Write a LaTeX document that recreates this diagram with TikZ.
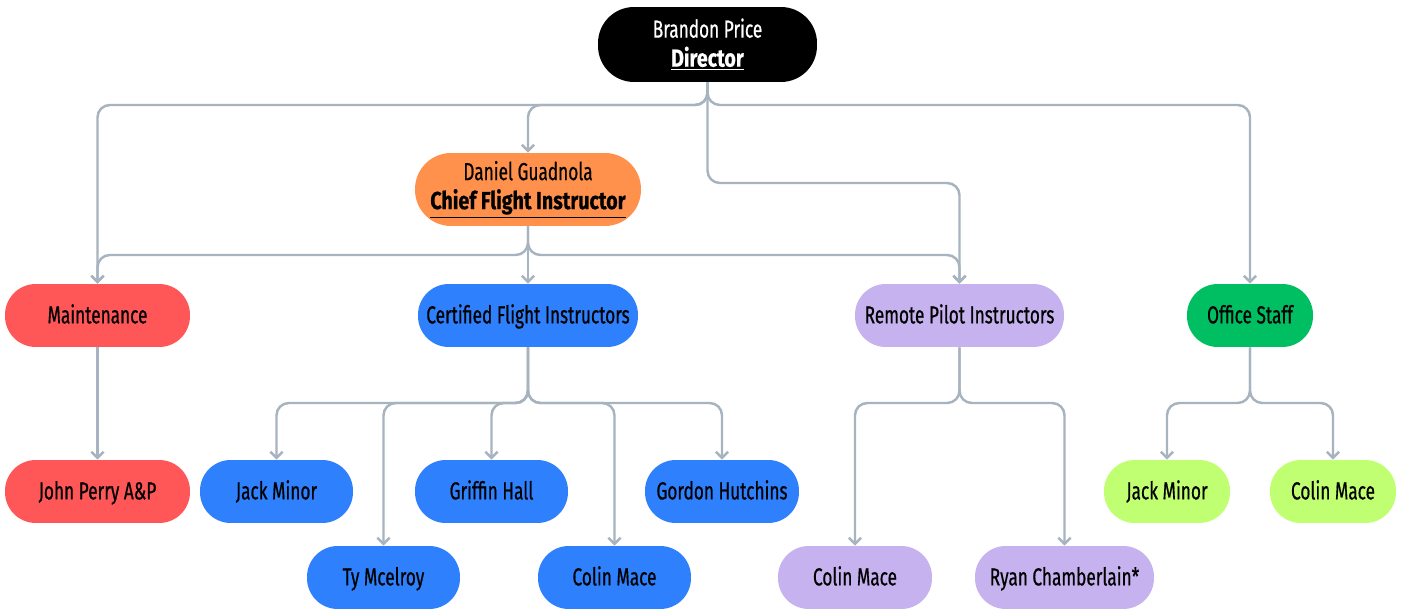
\documentclass[tikz,border=0pt]{standalone}
\usepackage{fontspec}
\setmainfont[FakeStretch=0.7,FakeBold=0.6,BoldFeatures={FakeStretch=0.8}]{Fira Sans}
\usetikzlibrary{arrows.meta}
\definecolor{conncol}{HTML}{A7B3BF}
\definecolor{orangec}{HTML}{FF914D}
\definecolor{redc}{HTML}{FF5757}
\definecolor{bluec}{HTML}{2E80FC}
\definecolor{lavc}{HTML}{C6B2EF}
\definecolor{greenc}{HTML}{00BF63}
\definecolor{limec}{HTML}{C1FF72}
\tikzset{
  basepill/.style={rectangle, inner sep=2pt, align=center, font=\fontsize{14}{16.5}\selectfont, text=black},
  pill/.style={basepill, rounded corners=17.5pt, minimum height=1.26cm, text height=0.9em, text depth=0em},
  bigpill/.style={basepill, rounded corners=20.5pt},
  conn/.style={draw=conncol, line width=1.4pt, rounded corners=7pt, -{Straight Barb[length=3.5pt,width=7pt]}},
}
\newcommand{\ulbold}[1]{\underline{\textbf{#1}}}
\begin{document}
\begin{tikzpicture}[x=0.02cm,y=-0.02cm]
\useasboundingbox (0,0) rectangle (1403,611);
% nodes
\node[bigpill, fill=black, text=white, minimum width=4.38cm, minimum height=1.5cm] (dir) at (707.5,44.5) {Brandon Price\\\ulbold{Director}};
\node[bigpill, fill=orangec, minimum width=4.52cm, minimum height=1.46cm] (chief) at (528,189.5) {Daniel Guadnola\\\ulbold{Chief Flight Instructor}};
\node[pill, fill=redc, minimum width=3.7cm] (mnt) at (97.5,315.5) {Maintenance};
\node[pill, fill=bluec, minimum width=4.4cm] (cfi) at (528,315.5) {Certified Flight Instructors};
\node[pill, fill=lavc, minimum width=4.18cm] (rpi) at (959.5,315.5) {Remote Pilot Instructors};
\node[pill, fill=greenc, minimum width=2.52cm] (off) at (1250,315.5) {Office Staff};
\node[pill, fill=redc, minimum width=3.7cm] (john) at (97.5,491.5) {John Perry A\&P};
\node[pill, fill=bluec, minimum width=3.06cm] (jack) at (276.5,491.5) {Jack Minor};
\node[pill, fill=bluec, minimum width=3.06cm] (griffin) at (491.5,491.5) {Griffin Hall};
\node[pill, fill=bluec, minimum width=3.08cm] (gordon) at (722,491.5) {Gordon Hutchins};
\node[pill, fill=bluec, minimum width=3.06cm] (ty) at (383.5,577.5) {Ty Mcelroy};
\node[pill, fill=bluec, minimum width=3.06cm] (colinb) at (614.5,577.5) {Colin Mace};
\node[pill, fill=lavc, minimum width=3.08cm] (colinr) at (855,577.5) {Colin Mace};
\node[pill, fill=lavc, minimum width=3.58cm] (ryan) at (1064.5,577.5) {Ryan Chamberlain*};
\node[pill, fill=limec, minimum width=2.52cm] (jacko) at (1167,491.5) {Jack Minor};
\node[pill, fill=limec, minimum width=2.52cm] (colino) at (1333,491.5) {Colin Mace};
% junctions
\coordinate (j1) at (707.5,105);
\coordinate (j1b) at (707.5,183);
\coordinate (j2) at (528,255);
\coordinate (j3) at (528,403);
\coordinate (j4) at (959.5,403);
\coordinate (j5) at (1250,403);
% connectors from director
\draw[conn] (dir.south) -- (j1) -| (mnt.north);
\draw[conn] (dir.south) -- (j1) -| (chief.north);
\draw[conn] (dir.south) -- (j1) -| (off.north);
\draw[conn] (dir.south) -- (j1b) -| (rpi.north);
% from chief
\draw[conn] (chief.south) -- (j2) -| (mnt.north);
\draw[conn] (chief.south) -- (cfi.north);
\draw[conn] (chief.south) -- (j2) -| (rpi.north);
% from maintenance
\draw[conn] (mnt.south) -- (john.north);
% from cfi
\draw[conn] (cfi.south) -- (j3) -| (jack.north);
\draw[conn] (cfi.south) -- (j3) -| (ty.north);
\draw[conn] (cfi.south) -- (j3) -| (griffin.north);
\draw[conn] (cfi.south) -- (j3) -| (colinb.north);
\draw[conn] (cfi.south) -- (j3) -| (gordon.north);
% from rpi
\draw[conn] (rpi.south) -- (j4) -| (colinr.north);
\draw[conn] (rpi.south) -- (j4) -| (ryan.north);
% from office
\draw[conn] (off.south) -- (j5) -| (jacko.north);
\draw[conn] (off.south) -- (j5) -| (colino.north);
\end{tikzpicture}
\end{document}
